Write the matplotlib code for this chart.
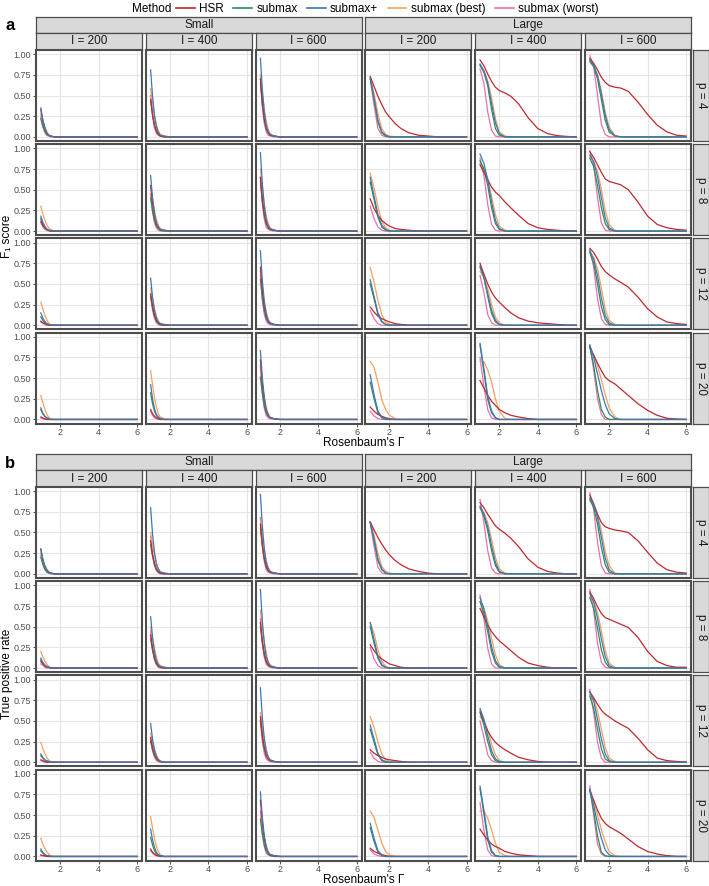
import matplotlib
matplotlib.use("Agg")
from matplotlib import pyplot as plt
from matplotlib.lines import Line2D

plt.rcParams['font.family'] = ['Liberation Sans', 'DejaVu Sans']

methods = ['HSR', 'submax', 'submax+', 'submax (best)', 'submax (worst)']
colors = ['#C0282E', '#2E8B57', '#3A78B8', '#F4A15D', '#EE6FA8']
sizes = ['Small', 'Large']
I_labels = ['I = 200', 'I = 400', 'I = 600']
p_labels = ['p = 4', 'p = 8', 'p = 12', 'p = 20']

# Gamma grids the curves were read at
gamma_small = [1.0, 1.1, 1.2, 1.3, 1.4, 1.5, 1.7, 2.0, 6.0]
gamma_fast = [1.0, 1.2, 1.4, 1.6, 1.8, 2.0, 2.3, 2.6, 6.0]
gamma_hsr = [1.0, 1.2, 1.4, 1.6, 1.8, 2.0, 2.3, 2.6, 3.0, 3.5, 4.0, 4.5, 5.0, 5.5, 6.0]

# ---- F1 score, small setting (rows p=4,8,12,20 ; cols I=200,400,600) ----
f1_small_hsr = [
    [[.33,.20,.11,.05,.02,.01,0,0,0], [.45,.27,.14,.07,.03,.01,0,0,0], [.70,.42,.22,.11,.05,.02,.01,0,0]],
    [[.12,.07,.04,.02,.01,0,0,0,0], [.55,.33,.18,.08,.04,.02,.01,0,0], [.65,.39,.21,.10,.05,.02,.01,0,0]],
    [[.05,.03,.02,.01,0,0,0,0,0], [.38,.23,.12,.06,.03,.01,0,0,0], [.70,.42,.22,.11,.05,.02,.01,0,0]],
    [[.03,.02,.01,0,0,0,0,0,0], [.12,.07,.04,.02,.01,0,0,0,0], [.72,.43,.23,.11,.05,.02,.01,0,0]],
]
f1_small_submax = [
    [[.22,.13,.07,.03,.02,.01,0,0,0], [.45,.27,.14,.07,.03,.01,0,0,0], [.65,.39,.21,.10,.05,.02,.01,0,0]],
    [[.15,.09,.05,.02,.01,0,0,0,0], [.40,.24,.13,.06,.03,.01,0,0,0], [.60,.36,.19,.09,.04,.02,.01,0,0]],
    [[.10,.06,.03,.02,.01,0,0,0,0], [.35,.21,.11,.05,.02,.01,0,0,0], [.55,.33,.18,.08,.04,.02,.01,0,0]],
    [[.12,.07,.04,.02,.01,0,0,0,0], [.32,.19,.10,.05,.02,.01,0,0,0], [.51,.31,.16,.08,.04,.02,.01,0,0]],
]
f1_small_plus = [
    [[.35,.21,.11,.05,.02,.01,0,0,0], [.81,.49,.26,.12,.06,.02,.01,0,0], [.95,.57,.30,.14,.07,.03,.01,0,0]],
    [[.18,.11,.06,.03,.01,.01,0,0,0], [.67,.40,.21,.10,.05,.02,.01,0,0], [.95,.57,.30,.14,.07,.03,.01,0,0]],
    [[.15,.09,.05,.02,.01,0,0,0,0], [.57,.34,.18,.09,.04,.02,.01,0,0], [.90,.54,.29,.14,.06,.03,.01,0,0]],
    [[.14,.08,.04,.02,.01,0,0,0,0], [.42,.25,.13,.06,.03,.01,0,0,0], [.83,.50,.27,.12,.06,.02,.01,0,0]],
]
f1_small_best = [
    [[.28,.20,.13,.07,.03,.01,0,0,0], [.58,.41,.26,.15,.07,.03,.01,0,0], [.75,.53,.34,.19,.09,.04,.01,0,0]],
    [[.30,.21,.14,.08,.04,.02,0,0,0], [.55,.39,.25,.14,.07,.03,.01,0,0], [.75,.53,.34,.19,.09,.04,.01,0,0]],
    [[.28,.20,.13,.07,.03,.01,0,0,0], [.45,.32,.20,.11,.05,.02,.01,0,0], [.65,.46,.29,.16,.08,.03,.01,0,0]],
    [[.29,.21,.13,.07,.03,.01,0,0,0], [.59,.42,.27,.15,.07,.03,.01,0,0], [.60,.42,.27,.15,.07,.03,.01,0,0]],
]
f1_small_worst = [
    [[.25,.13,.06,.02,.01,0,0,0,0], [.50,.25,.11,.04,.02,.01,0,0,0], [.72,.36,.16,.06,.02,.01,0,0,0]],
    [[.10,.05,.02,.01,0,0,0,0,0], [.45,.23,.10,.04,.01,0,0,0,0], [.65,.33,.14,.05,.02,.01,0,0,0]],
    [[.04,.02,.01,0,0,0,0,0,0], [.35,.18,.08,.03,.01,0,0,0,0], [.60,.30,.13,.05,.02,.01,0,0,0]],
    [[.02,.01,0,0,0,0,0,0,0], [.10,.05,.02,.01,0,0,0,0,0], [.65,.33,.14,.05,.02,.01,0,0,0]],
]

# ---- F1 score, large setting ----
f1_large_hsr = [
    [[.73,.61,.49,.39,.30,.24,.16,.10,.05,.02,.01,0,0,0,0],
     [.93,.86,.76,.67,.60,.56,.53,.49,.40,.23,.10,.04,.015,.005,0],
     [.95,.89,.81,.72,.66,.62,.60,.59,.55,.42,.27,.14,.06,.02,.01]],
    [[.39,.27,.19,.13,.09,.06,.03,.02,.01,0,0,0,0,0,0],
     [.80,.71,.62,.53,.47,.43,.35,.28,.19,.09,.04,.02,.01,0,0],
     [.96,.89,.80,.71,.63,.60,.58,.56,.50,.35,.18,.08,.04,.02,.01]],
    [[.22,.16,.11,.08,.06,.04,.02,.01,0,0,0,0,0,0,0],
     [.75,.62,.50,.40,.33,.28,.21,.15,.09,.05,.03,.02,.01,0,0],
     [.93,.88,.80,.71,.65,.61,.56,.52,.46,.34,.20,.10,.04,.02,.01]],
    [[.15,.10,.06,.04,.02,.01,0,0,0,0,0,0,0,0,0],
     [.47,.38,.29,.22,.17,.12,.08,.05,.03,.01,0,0,0,0,0],
     [.88,.78,.68,.59,.51,.47,.43,.37,.29,.19,.11,.05,.015,.005,0]],
]
f1_large_submax = [
    [[.71,.45,.18,.05,.01,0,0,0,0], [.87,.78,.62,.33,.10,.02,0,0,0], [.92,.85,.70,.45,.20,.06,.01,0,0]],
    [[.59,.38,.17,.05,.01,0,0,0,0], [.85,.75,.55,.28,.09,.02,0,0,0], [.88,.78,.55,.28,.09,.02,0,0,0]],
    [[.50,.32,.13,.04,.01,0,0,0,0], [.72,.58,.35,.14,.04,.01,0,0,0], [.88,.75,.50,.22,.07,.01,0,0,0]],
    [[.45,.25,.08,.02,0,0,0,0,0], [.90,.58,.24,.08,.02,0,0,0,0], [.88,.65,.35,.12,.03,0,0,0,0]],
]
f1_large_plus = [
    [[.71,.47,.20,.06,.02,0,0,0,0], [.88,.80,.65,.40,.17,.04,0,0,0], [.93,.87,.74,.52,.26,.09,.01,0,0]],
    [[.65,.42,.20,.07,.02,0,0,0,0], [.93,.82,.62,.35,.13,.03,0,0,0], [.92,.84,.66,.40,.16,.04,0,0,0]],
    [[.55,.35,.15,.05,.01,0,0,0,0], [.70,.58,.38,.18,.06,.01,0,0,0], [.90,.80,.60,.33,.12,.03,0,0,0]],
    [[.54,.30,.10,.03,.01,0,0,0,0], [.92,.62,.28,.10,.02,0,0,0,0], [.90,.75,.55,.35,.18,.07,.01,0,0]],
]
f1_large_best = [
    [[.72,.52,.28,.10,.03,.01,0,0,0], [.86,.80,.68,.47,.22,.06,.01,0,0], [.90,.85,.75,.55,.30,.12,.02,0,0]],
    [[.70,.52,.30,.12,.04,.01,0,0,0], [.82,.76,.63,.42,.20,.06,.01,0,0], [.90,.84,.72,.50,.25,.08,.01,0,0]],
    [[.70,.52,.30,.13,.04,.01,0,0,0], [.65,.58,.44,.25,.10,.03,0,0,0], [.88,.82,.68,.45,.20,.06,.01,0,0]],
    [[.70,.63,.45,.24,.12,.05,.01,0,0], [.70,.70,.60,.45,.25,.10,.01,0,0], [.85,.78,.65,.48,.30,.14,.03,0,0]],
]
f1_large_worst = [
    [[.70,.38,.10,.02,0,0,0,0,0], [.82,.65,.30,.08,.01,0,0,0,0], [.98,.85,.50,.15,.03,0,0,0,0]],
    [[.30,.15,.05,.01,0,0,0,0,0], [.88,.68,.32,.08,.01,0,0,0,0], [.97,.80,.40,.10,.01,0,0,0,0]],
    [[.18,.08,.02,0,0,0,0,0,0], [.60,.40,.13,.03,0,0,0,0,0], [.92,.70,.32,.08,.01,0,0,0,0]],
    [[.10,.04,.01,0,0,0,0,0,0], [.75,.40,.12,.02,0,0,0,0,0], [.90,.60,.25,.06,0,0,0,0,0]],
]

# ---- True positive rate, small setting ----
tpr_small_hsr = [
    [[.30,.18,.10,.05,.02,.01,0,0,0], [.40,.24,.13,.06,.03,.01,0,0,0], [.60,.36,.19,.09,.04,.02,.01,0,0]],
    [[.08,.05,.03,.01,.01,0,0,0,0], [.40,.24,.13,.06,.03,.01,0,0,0], [.55,.33,.18,.08,.04,.02,.01,0,0]],
    [[.03,.02,.01,0,0,0,0,0,0], [.30,.18,.10,.05,.02,.01,0,0,0], [.55,.33,.18,.08,.04,.02,.01,0,0]],
    [[.02,.01,.01,0,0,0,0,0,0], [.09,.05,.03,.01,.01,0,0,0,0], [.68,.41,.22,.10,.05,.02,.01,0,0]],
]
tpr_small_submax = [
    [[.20,.12,.06,.03,.01,.01,0,0,0], [.35,.21,.11,.05,.02,.01,0,0,0], [.55,.33,.18,.08,.04,.02,.01,0,0]],
    [[.10,.06,.03,.02,.01,0,0,0,0], [.35,.21,.11,.05,.02,.01,0,0,0], [.50,.30,.16,.08,.04,.02,.01,0,0]],
    [[.08,.05,.03,.01,.01,0,0,0,0], [.25,.15,.08,.04,.02,.01,0,0,0], [.50,.30,.16,.08,.04,.02,.01,0,0]],
    [[.07,.04,.02,.01,0,0,0,0,0], [.23,.14,.07,.03,.02,.01,0,0,0], [.45,.27,.14,.07,.03,.01,0,0,0]],
]
tpr_small_plus = [
    [[.30,.18,.10,.05,.02,.01,0,0,0], [.80,.48,.26,.12,.06,.02,.01,0,0], [.96,.58,.31,.14,.07,.03,.01,0,0]],
    [[.12,.07,.04,.02,.01,0,0,0,0], [.62,.37,.20,.09,.04,.02,.01,0,0], [.95,.57,.30,.14,.07,.03,.01,0,0]],
    [[.10,.06,.03,.02,.01,0,0,0,0], [.47,.28,.15,.07,.03,.01,0,0,0], [.90,.54,.29,.14,.06,.03,.01,0,0]],
    [[.09,.05,.03,.01,.01,0,0,0,0], [.33,.20,.11,.05,.02,.01,0,0,0], [.78,.47,.25,.12,.05,.02,.01,0,0]],
]
tpr_small_best = [
    [[.22,.15,.10,.06,.03,.01,0,0,0], [.50,.35,.23,.13,.06,.03,.01,0,0], [.65,.46,.29,.16,.08,.03,.01,0,0]],
    [[.20,.14,.09,.05,.02,.01,0,0,0], [.50,.35,.23,.13,.06,.03,.01,0,0], [.70,.49,.32,.18,.08,.04,.01,0,0]],
    [[.24,.17,.11,.06,.03,.01,0,0,0], [.35,.25,.16,.09,.04,.02,0,0,0], [.60,.42,.27,.15,.07,.03,.01,0,0]],
    [[.22,.15,.10,.06,.03,.01,0,0,0], [.48,.34,.22,.12,.06,.02,0,0,0], [.50,.35,.23,.13,.06,.03,.01,0,0]],
]
tpr_small_worst = [
    [[.25,.13,.06,.02,.01,0,0,0,0], [.45,.23,.10,.04,.01,0,0,0,0], [.68,.34,.15,.05,.02,.01,0,0,0]],
    [[.05,.03,.01,0,0,0,0,0,0], [.45,.23,.10,.04,.01,0,0,0,0], [.60,.30,.13,.05,.02,.01,0,0,0]],
    [[.02,.01,0,0,0,0,0,0,0], [.28,.14,.06,.02,.01,0,0,0,0], [.50,.25,.11,.04,.02,.01,0,0,0]],
    [[.01,.01,0,0,0,0,0,0,0], [.07,.04,.02,.01,0,0,0,0,0], [.55,.28,.12,.04,.02,.01,0,0,0]],
]

# ---- True positive rate, large setting ----
tpr_large_hsr = [
    [[.63,.53,.44,.36,.29,.23,.16,.11,.06,.03,.01,0,0,0,0],
     [.86,.80,.72,.65,.58,.54,.49,.43,.33,.18,.08,.03,.01,0,0],
     [.95,.85,.72,.62,.57,.55,.53,.52,.50,.40,.26,.13,.05,.02,.01]],
    [[.28,.21,.15,.11,.08,.05,.03,.01,0,0,0,0,0,0,0],
     [.72,.62,.52,.44,.38,.33,.27,.21,.13,.06,.03,.01,0,0,0],
     [.92,.84,.74,.66,.61,.59,.56,.53,.49,.37,.20,.08,.03,.01,.01]],
    [[.15,.11,.08,.06,.04,.03,.02,.01,0,0,0,0,0,0,0],
     [.62,.50,.38,.30,.24,.20,.15,.11,.06,.03,.01,0,0,0,0],
     [.85,.78,.70,.63,.58,.55,.50,.46,.41,.29,.15,.05,.02,.01,0]],
    [[.10,.06,.04,.02,.01,0,0,0,0,0,0,0,0,0,0],
     [.33,.26,.20,.15,.12,.10,.06,.04,.02,.01,0,0,0,0,0],
     [.80,.68,.56,.46,.40,.36,.32,.28,.21,.12,.06,.03,.01,0,0]],
]
tpr_large_submax = [
    [[.62,.40,.16,.05,.01,0,0,0,0], [.80,.70,.52,.28,.10,.02,0,0,0], [.90,.80,.60,.32,.11,.02,0,0,0]],
    [[.50,.30,.12,.03,.01,0,0,0,0], [.80,.66,.44,.20,.06,.01,0,0,0], [.85,.72,.48,.22,.07,.01,0,0,0]],
    [[.40,.24,.09,.02,0,0,0,0,0], [.60,.45,.25,.09,.02,0,0,0,0], [.80,.65,.40,.16,.04,.01,0,0,0]],
    [[.35,.18,.05,.01,0,0,0,0,0], [.82,.52,.20,.05,.01,0,0,0,0], [.80,.55,.25,.05,.01,0,0,0,0]],
]
tpr_large_plus = [
    [[.62,.42,.18,.06,.01,0,0,0,0], [.82,.73,.57,.34,.14,.03,0,0,0], [.92,.84,.68,.44,.19,.05,0,0,0]],
    [[.55,.34,.14,.04,.01,0,0,0,0], [.85,.72,.50,.26,.09,.02,0,0,0], [.90,.80,.60,.35,.14,.03,0,0,0]],
    [[.45,.28,.11,.03,.01,0,0,0,0], [.65,.52,.32,.14,.04,.01,0,0,0], [.85,.74,.52,.28,.10,.02,0,0,0]],
    [[.40,.22,.07,.02,0,0,0,0,0], [.85,.56,.24,.07,.01,0,0,0,0], [.82,.62,.40,.22,.08,.02,0,0,0]],
]
tpr_large_best = [
    [[.63,.47,.25,.09,.03,.01,0,0,0], [.80,.74,.62,.42,.20,.06,.01,0,0], [.88,.83,.72,.52,.27,.10,.01,0,0]],
    [[.55,.42,.22,.08,.02,0,0,0,0], [.80,.72,.57,.36,.16,.04,0,0,0], [.86,.80,.67,.45,.21,.06,.01,0,0]],
    [[.55,.42,.24,.10,.03,.01,0,0,0], [.55,.50,.38,.22,.09,.02,0,0,0], [.82,.76,.62,.40,.18,.05,.01,0,0]],
    [[.55,.47,.32,.16,.06,.02,0,0,0], [.55,.55,.46,.32,.16,.05,.01,0,0], [.78,.68,.50,.32,.18,.06,.01,0,0]],
]
tpr_large_worst = [
    [[.62,.33,.08,.01,0,0,0,0,0], [.90,.62,.28,.07,.01,0,0,0,0], [.98,.78,.38,.10,.01,0,0,0,0]],
    [[.25,.11,.03,0,0,0,0,0,0], [.88,.60,.24,.05,0,0,0,0,0], [.95,.70,.30,.07,.01,0,0,0,0]],
    [[.12,.05,.01,0,0,0,0,0,0], [.50,.30,.09,.02,0,0,0,0,0], [.88,.60,.24,.05,0,0,0,0,0]],
    [[.08,.03,.01,0,0,0,0,0,0], [.65,.32,.08,.01,0,0,0,0,0], [.85,.50,.15,.03,0,0,0,0,0]],
]

data = {
    ('f1', 'Small'): [f1_small_hsr, f1_small_submax, f1_small_plus, f1_small_best, f1_small_worst],
    ('f1', 'Large'): [f1_large_hsr, f1_large_submax, f1_large_plus, f1_large_best, f1_large_worst],
    ('tpr', 'Small'): [tpr_small_hsr, tpr_small_submax, tpr_small_plus, tpr_small_best, tpr_small_worst],
    ('tpr', 'Large'): [tpr_large_hsr, tpr_large_submax, tpr_large_plus, tpr_large_best, tpr_large_worst],
}

# drawing order: submax+ ends up on top, as in the figure
draw_order = [4, 3, 1, 0, 2]

# ---- layout (pixels) ----
W, H = 709, 886
def box(x, y, w, h):
    return [x / W, 1 - (y + h) / H, w / W, h / H]

col_x = [36 + 109.8 * k for k in range(6)]
panel_w = 106
panel_h = 91
row_pitch = 94.2
strip_bg = '#D9D9D9'
edge = '#4D4D4D'

fig = plt.figure(figsize=(W / 100, H / 100), dpi=100)

def strip(x, y, w, h, text, rot=0):
    s = fig.add_axes(box(x, y, w, h))
    s.set_facecolor(strip_bg)
    s.set_xticks([]); s.set_yticks([])
    for sp in s.spines.values():
        sp.set_color(edge); sp.set_linewidth(0.9)
    s.text(0.5, 0.5, text, ha='center', va='center', rotation=rot,
           fontsize=8.5, color='#1A1A1A', transform=s.transAxes)

sections = [('f1', 50, 'a', 'F\u2081 score', 443),
            ('tpr', 487, 'b', 'True positive rate', 880)]

for metric, top, tag, ylab, xlab_y in sections:
    # outer strips (Small / Large) and I strips
    for g, size in enumerate(sizes):
        x0 = col_x[3 * g]
        x1 = col_x[3 * g + 2] + panel_w
        strip(x0, top - 33, x1 - x0, 16, size)
    for c in range(6):
        strip(col_x[c], top - 17, panel_w, 17, I_labels[c % 3])
    fig.text(5 / W, 1 - (top - 24) / H, tag, fontsize=12, fontweight='bold',
             ha='left', va='center')

    for r in range(4):
        y = top + r * row_pitch
        strip(693, y, 16, panel_h, p_labels[r], rot=-90)
        for c in range(6):
            size = sizes[c // 3]
            ax = fig.add_axes(box(col_x[c], y, panel_w, panel_h))
            curves = data[(metric, size)]
            for m in draw_order:
                vals = curves[m][r][c % 3]
                if size == 'Small':
                    gx = gamma_small
                elif m == 0:
                    gx = gamma_hsr
                else:
                    gx = gamma_fast
                ax.plot(gx, vals, color=colors[m], lw=0.9, solid_joinstyle='round')
            ax.set_xlim(0.75, 6.25)
            ax.set_ylim(-0.05, 1.05)
            ax.set_xticks([2, 4, 6])
            ax.set_yticks([0, 0.25, 0.5, 0.75, 1.0])
            ax.grid(True, color='#E5E5E5', lw=0.8)
            ax.set_axisbelow(True)
            for sp in ax.spines.values():
                sp.set_color(edge); sp.set_linewidth(1.5)
            ax.tick_params(length=2.5, width=0.6, color='#333333',
                           labelsize=6.5, labelcolor='#4D4D4D', pad=1)
            if c == 0:
                ax.set_yticklabels(['0.00', '0.25', '0.50', '0.75', '1.00'])
            else:
                ax.tick_params(axis='y', left=False, labelleft=False)
            if r < 3:
                ax.tick_params(axis='x', bottom=False, labelbottom=False)

    fig.text(7 / W, 1 - (top + (3 * row_pitch + panel_h) / 2) / H, ylab,
             rotation=90, ha='center', va='center', fontsize=8.5)
    fig.text((col_x[0] + col_x[5] + panel_w) / 2 / W, 1 - xlab_y / H,
             "Rosenbaum's \u0393", ha='center', va='center', fontsize=8.5)

# legend on top
handles = [Line2D([], [], color=col, lw=1.2) for col in colors]
fig.text(132 / W, 1 - 9 / H, 'Method', fontsize=8.5, ha='left', va='center')
fig.legend(handles, methods, loc='center left', bbox_to_anchor=(176 / W, 1 - 9 / H),
           ncol=5, frameon=False, fontsize=8.5, handlelength=1.6,
           handletextpad=0.35, columnspacing=0.8, borderpad=0, borderaxespad=0)

fig.savefig('out.png', dpi=100)
